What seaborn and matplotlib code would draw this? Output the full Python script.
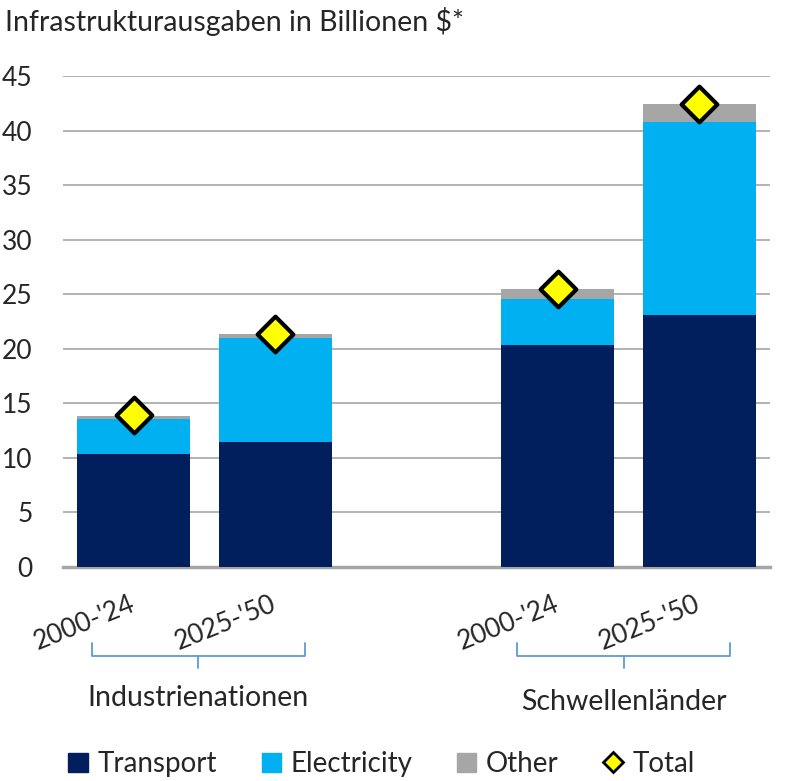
import numpy as np
import pandas as pd
import matplotlib.pyplot as plt
import seaborn as sns
from matplotlib.lines import Line2D
from matplotlib.patches import Patch

# =====================================
# DATA
# =====================================

periods = ["2000-'24", "2025-'50", "2000-'24", "2025-'50"]
groups = ["Industrienationen", "Schwellenländer"]
slots = [0, 1, 3, 4]

transport = [10.35, 11.45, 20.35, 23.1]
electricity = [3.2, 9.55, 4.2, 17.7]
other = [0.3, 0.35, 0.9, 1.6]
total = [13.9, 21.4, 25.5, 42.4]

df = pd.DataFrame({
    "slot": slots,
    "transport": transport,
    "electricity": electricity,
    "other": other,
    "total": total,
})
df["elec_top"] = df["transport"] + df["electricity"]
df["other_top"] = df["elec_top"] + df["other"]

C_TRANS = "#001F5C"
C_ELEC = "#00B0F0"
C_OTHER = "#A6A6A6"

sns.set_style("white")
plt.rcParams["font.family"] = ["Lato", "DejaVu Sans"]

fig = plt.figure(figsize=(8.12, 7.81), dpi=100)
ax = fig.add_axes([63/812, 1-567/781, 707/812, 491/781])

for col, c in [("other_top", C_OTHER), ("elec_top", C_ELEC), ("transport", C_TRANS)]:
    sns.barplot(data=df, x="slot", y=col, native_scale=True, width=0.8,
                color=c, saturation=1, edgecolor="none", ax=ax, zorder=3)

sns.scatterplot(data=df, x="slot", y="total", marker="D", s=330,
                color="#FFFF00", edgecolor="black", linewidth=3, ax=ax, zorder=5)

ax.set_xlim(-0.5, 4.5)
ax.set_ylim(0, 45)
ax.set_yticks(range(0, 46, 5))
ax.tick_params(axis="y", labelsize=19, length=0, pad=22)
ax.yaxis.grid(True, color="#A6A6A6", linewidth=1.2, zorder=0)
ax.set_axisbelow(True)
for s in ["top", "right", "left"]:
    ax.spines[s].set_visible(False)
ax.spines["bottom"].set_color("#A6A6A6")
ax.spines["bottom"].set_linewidth(2.5)
ax.set_xlabel("")
ax.set_ylabel("")
ax.set_xticks(slots)
ax.set_xticklabels([])
ax.tick_params(axis="x", length=0)

# rotated period labels
for x, lab in zip(slots, periods):
    ax.text(x, -3.3, lab, rotation=22, ha="right", va="center",
            rotation_mode="anchor", fontsize=19, clip_on=False)

# braces
def fy(px):
    return 1 - px / 781

def fx(px):
    return px / 812

for x0, x1, name, ty in [(92, 305, groups[0], 698), (517, 730, groups[1], 702)]:
    xc = (x0 + x1) / 2
    col = "#5B9BD5"
    fig.add_artist(Line2D([fx(x0), fx(x0), fx(x1), fx(x1)],
                          [fy(643), fy(656), fy(656), fy(643)], color=col, lw=1.3))
    fig.add_artist(Line2D([fx(xc), fx(xc)], [fy(656), fy(668)], color=col, lw=1.3))
    fig.text(fx(xc), fy(ty), name, ha="center", va="center", fontsize=20.5)

fig.text(5/812, fy(22), "Infrastrukturausgaben in Billionen $*", ha="left",
         va="center", fontsize=20.5)

handles = [
    Patch(color=C_TRANS, label="Transport"),
    Patch(color=C_ELEC, label="Electricity"),
    Patch(color=C_OTHER, label="Other"),
    Line2D([], [], marker="D", linestyle="none", markersize=10,
           markerfacecolor="#FFFF00", markeredgecolor="black",
           markeredgewidth=2, label="Total"),
]
fig.legend(handles=handles, ncol=4, loc="center", bbox_to_anchor=(0.47, fy(764)),
           frameon=False, fontsize=20, handlelength=0.7, handleheight=0.7,
           handletextpad=0.35, columnspacing=1.6)

fig.savefig("out.png", dpi=100)
